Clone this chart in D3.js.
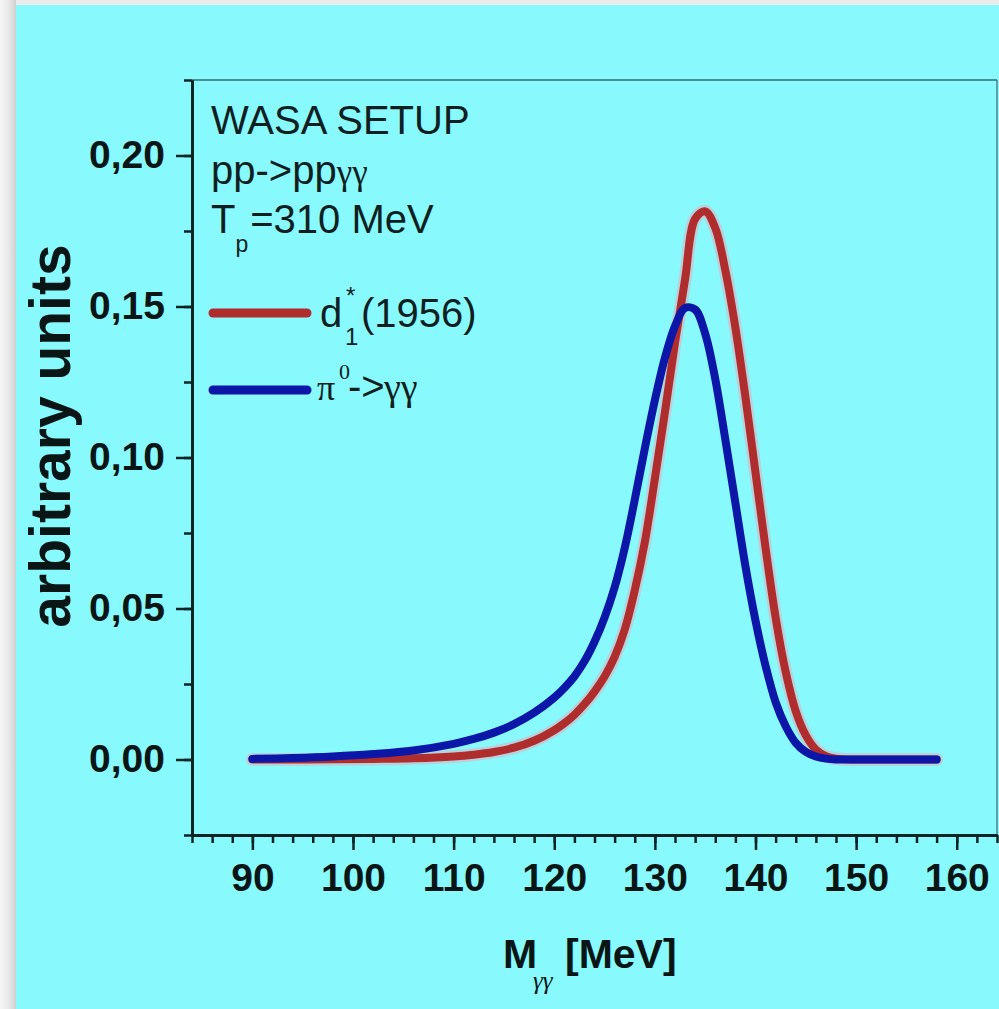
<!DOCTYPE html>
<html>
<head>
<meta charset="utf-8">
<script src="https://cdn.jsdelivr.net/npm/d3@7"></script>
<style>
  body { margin: 0; background: #ececec; }
  svg { display: block; }
</style>
</head>
<body>
<svg id="chart" width="999" height="1009"></svg>
<script>
// invariant mass grid [MeV]
var massValues = [90, 94, 98, 102, 106, 110, 112, 114, 116, 118, 120, 121, 122, 123, 124, 125, 126, 127, 128, 129, 130, 131, 132, 133, 134, 135, 136, 137, 138, 139, 140, 141, 142, 143, 144, 145, 146, 147, 148, 150, 154, 158];
// d1*(1956) curve
var d1Values = [0, 0, 0.0001, 0.0002, 0.0004, 0.001, 0.0016, 0.0025, 0.0039, 0.0062, 0.0097, 0.012, 0.0148, 0.0183, 0.0225, 0.0275, 0.034, 0.043, 0.056, 0.072, 0.093, 0.115, 0.138, 0.159, 0.179, 0.1815, 0.176, 0.162, 0.143, 0.120, 0.095, 0.070, 0.047, 0.029, 0.016, 0.008, 0.0033, 0.0011, 0.0003, 0, 0, 0];
// pi0 -> gamma gamma curve
var pi0Values = [0.0002, 0.0005, 0.001, 0.0018, 0.003, 0.0052, 0.0068, 0.0089, 0.0117, 0.0155, 0.0205, 0.0237, 0.0275, 0.0325, 0.039, 0.047, 0.057, 0.070, 0.086, 0.103, 0.119, 0.133, 0.1435, 0.1495, 0.149, 0.141, 0.126, 0.106, 0.085, 0.064, 0.046, 0.031, 0.019, 0.011, 0.0055, 0.0025, 0.001, 0.0003, 0, 0, 0, 0];

var xMajor = [90, 100, 110, 120, 130, 140, 150, 160];
var yMajor = [0, 0.05, 0.10, 0.15, 0.20];

var svg = d3.select("#chart");
var W = 999, H = 1009;

// page background: grey strip on the left, cyan panel
var grad = svg.append("defs").append("linearGradient").attr("id", "edge");
grad.append("stop").attr("offset", "0%").attr("stop-color", "#f6f6f6");
grad.append("stop").attr("offset", "60%").attr("stop-color", "#e6e6e6");
grad.append("stop").attr("offset", "100%").attr("stop-color", "#cfcfcf");
svg.append("rect").attr("width", W).attr("height", H).attr("fill", "#ececec");
svg.append("rect").attr("x", 0).attr("y", 0).attr("width", 16).attr("height", H).attr("fill", "url(#edge)");
svg.append("rect").attr("x", 16).attr("y", 5).attr("width", W - 16).attr("height", H - 5).attr("fill", "#88f9fc");

var margin = {left: 192, top: 80, right: 997, bottom: 835};
var x = d3.scaleLinear().domain([84, 164]).range([margin.left, margin.right]);
var y = d3.scaleLinear().domain([-0.025, 0.225]).range([margin.bottom, margin.top]);

var axisColor = "#0c2424";
var font = "'Liberation Sans', Arial, sans-serif";
var serif = "'Liberation Serif', 'Times New Roman', serif";

// frame: thin top and right lines
svg.append("line").attr("x1", margin.left).attr("x2", margin.right)
  .attr("y1", margin.top).attr("y2", margin.top)
  .attr("stroke", axisColor).attr("stroke-width", 1.2);
svg.append("line").attr("x1", margin.right).attr("x2", margin.right)
  .attr("y1", margin.top).attr("y2", margin.bottom)
  .attr("stroke", "#3d6a6a").attr("stroke-width", 1.2);

// minor ticks
svg.append("g")
  .attr("transform", "translate(0," + margin.bottom + ")")
  .call(d3.axisBottom(x).tickValues(d3.range(84, 165, 2)).tickSize(8).tickSizeOuter(0).tickFormat(""));
svg.append("g")
  .attr("transform", "translate(" + margin.left + ",0)")
  .call(d3.axisLeft(y).tickValues(d3.range(-0.025, 0.2251, 0.025)).tickSize(8).tickSizeOuter(0).tickFormat(""));

// major ticks + labels
svg.append("g")
  .attr("transform", "translate(0," + margin.bottom + ")")
  .call(d3.axisBottom(x).tickValues(xMajor).tickSize(15).tickSizeOuter(0).tickPadding(13).tickFormat(d3.format("d")));
svg.append("g")
  .attr("transform", "translate(" + margin.left + ",0)")
  .call(d3.axisLeft(y).tickValues(yMajor).tickSize(16).tickSizeOuter(0).tickPadding(11)
    .tickFormat(function(d) { return d.toFixed(2).replace(".", ","); }));

svg.selectAll(".domain").attr("stroke", axisColor).attr("stroke-width", 3);
svg.selectAll(".tick line").attr("stroke", axisColor).attr("stroke-width", 2.5);
svg.selectAll(".tick text")
  .attr("fill", "#0a1616")
  .style("font-family", font)
  .style("font-weight", "bold")
  .style("font-size", "39px");

// curves
var pts = function(vals) {
  return massValues.map(function(m, i) { return [m, vals[i]]; });
};
var line = d3.line()
  .x(function(d) { return x(d[0]); })
  .y(function(d) { return y(d[1]); })
  .curve(d3.curveCatmullRom.alpha(0.5));

svg.append("path").attr("d", line(pts(d1Values)))
  .attr("fill", "none").attr("stroke", "#f3a2b4").attr("stroke-opacity", 0.45)
  .attr("stroke-width", 13).attr("stroke-linejoin", "round").attr("stroke-linecap", "round");
svg.append("path").attr("d", line(pts(d1Values)))
  .attr("fill", "none").attr("stroke", "#b02d2d")
  .attr("stroke-width", 8).attr("stroke-linejoin", "round").attr("stroke-linecap", "round");
svg.append("path").attr("d", line(pts(pi0Values)))
  .attr("fill", "none").attr("stroke", "#0c17a8")
  .attr("stroke-width", 8).attr("stroke-linejoin", "round").attr("stroke-linecap", "round");

// legend block
var txt = function(xp, yp, s, size, family) {
  return svg.append("text").attr("x", xp).attr("y", yp).text(s)
    .attr("fill", "#0f1f1f").style("font-family", family || font).style("font-size", size + "px");
};

txt(211, 134, "WASA SETUP", 40);
var t2 = txt(211, 184, "pp->pp", 40);
t2.append("tspan").style("font-family", serif).style("font-size", "35px").text("γγ");
var t3 = txt(211, 233, "T", 40);
t3.append("tspan").attr("dy", 19).style("font-size", "23px").text("p");
t3.append("tspan").attr("dy", -19).attr("dx", 2).text("=310 MeV");

svg.append("line").attr("x1", 213).attr("x2", 307).attr("y1", 313).attr("y2", 313)
  .attr("stroke", "#b02d2d").attr("stroke-width", 9).attr("stroke-linecap", "round");
txt(320, 327, "d", 40);
txt(345, 345, "1", 24);
txt(346, 304, "*", 24);
txt(361, 327, "(1956)", 40);

svg.append("line").attr("x1", 213).attr("x2", 307).attr("y1", 390).attr("y2", 390)
  .attr("stroke", "#0c17a8").attr("stroke-width", 9).attr("stroke-linecap", "round");
txt(317, 400, "π", 36, serif);
txt(339, 379, "0", 22, serif);
txt(348, 400, "->", 40);
txt(384, 400, "γγ", 38, serif);

// axis titles
svg.append("text")
  .attr("transform", "translate(70,436) rotate(-90)")
  .attr("text-anchor", "middle")
  .attr("fill", "#0a1616")
  .style("font-family", font).style("font-weight", "bold").style("font-size", "57px")
  .text("arbitrary units");

svg.append("text").attr("x", 503).attr("y", 968).attr("fill", "#0a1616")
  .style("font-family", font).style("font-weight", "bold").style("font-size", "41px").text("M");
svg.append("text").attr("x", 533).attr("y", 989).attr("fill", "#0a1616")
  .style("font-family", serif).style("font-style", "italic").style("font-size", "25px").text("γγ");
svg.append("text").attr("x", 565).attr("y", 968).attr("fill", "#0a1616")
  .style("font-family", font).style("font-weight", "bold").style("font-size", "41px").text("[MeV]");
</script>
</body>
</html>
